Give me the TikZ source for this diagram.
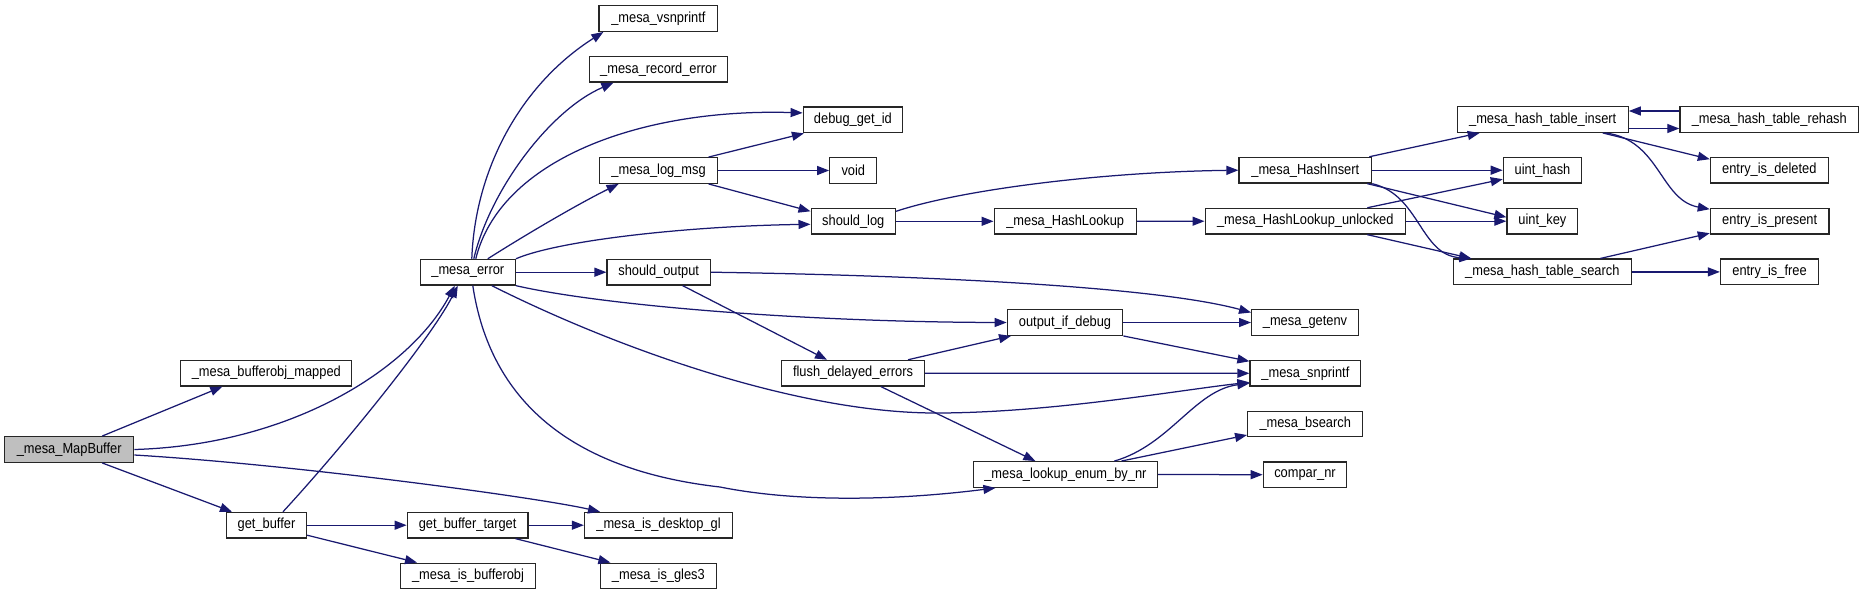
\documentclass[tikz,border=0pt]{standalone}
\usepackage{fontspec}
\setmainfont{Liberation Sans}
\newfontfamily\dotfont[FakeStretch=0.88]{Liberation Sans}
\usetikzlibrary{arrows.meta,calc}
\definecolor{edgeblue}{HTML}{191970}
\begin{document}
\begin{tikzpicture}[x=1pt,y=-1pt,
  box/.style={draw=black!85,line width=1.3pt,fill=white,minimum height=25.6pt,inner sep=0pt,font=\dotfont\fontsize{14.6}{16}\selectfont},
  rootbox/.style={box,fill=gray!50},
  link/.style={draw=edgeblue,line width=1.25pt,-{Triangle[length=12pt,width=9pt]}}]
\useasboundingbox (0,0) rectangle (1864,595);
% nodes
\node[rootbox,minimum width=129pt] (mapbuf) at (69.2,449.5) {\_mesa\_MapBuffer};
\node[box,minimum width=171pt] (mapped) at (266.3,373.2) {\_mesa\_bufferobj\_mapped};
\node[box,minimum width=80pt] (getbuf) at (266.5,525.2) {get\_buffer};
\node[box,minimum width=120.6pt] (gbt) at (467.6,525.2) {get\_buffer\_target};
\node[box,minimum width=135pt] (isbo) at (468,576) {\_mesa\_is\_bufferobj};
\node[box,minimum width=95pt] (err) at (467.8,272.2) {\_mesa\_error};
\node[box,minimum width=118.8pt] (vsn) at (658.4,18.5) {\_mesa\_vsnprintf};
\node[box,minimum width=137.8pt] (rec) at (658.4,69.3) {\_mesa\_record\_error};
\node[box,minimum width=117.6pt] (logm) at (658.6,170.5) {\_mesa\_log\_msg};
\node[box,minimum width=103.2pt] (sout) at (658.7,272.2) {should\_output};
\node[box,minimum width=148pt] (dgl) at (658.5,525.2) {\_mesa\_is\_desktop\_gl};
\node[box,minimum width=116.4pt] (gles3) at (658.4,576) {\_mesa\_is\_gles3};
\node[box,minimum width=99.3pt] (dbg) at (852.9,119.9) {debug\_get\_id};
\node[box,minimum width=47pt] (void) at (853.3,170.5) {void};
\node[box,minimum width=84.3pt] (slog) at (853.3,221.3) {should\_log};
\node[box,minimum width=143pt] (flush) at (853,373.2) {flush\_delayed\_errors};
\node[box,minimum width=142pt] (hlook) at (1065.2,221.3) {\_mesa\_HashLookup};
\node[box,minimum width=115.4pt] (oid) at (1065,322.5) {output\_if\_debug};
\node[box,minimum width=184pt] (lenum) at (1065.4,474.5) {\_mesa\_lookup\_enum\_by\_nr};
\node[box,minimum width=132.5pt] (hins) at (1305.3,170.2) {\_mesa\_HashInsert};
\node[box,minimum width=200.3pt] (hlu) at (1305.3,221.2) {\_mesa\_HashLookup\_unlocked};
\node[box,minimum width=106.6pt] (genv) at (1305,322.5) {\_mesa\_getenv};
\node[box,minimum width=110.7pt] (snp) at (1305.4,373.3) {\_mesa\_snprintf};
\node[box,minimum width=115pt] (bsr) at (1305.2,424) {\_mesa\_bsearch};
\node[box,minimum width=83.4pt] (cmp) at (1305,474.7) {compar\_nr};
\node[box,minimum width=171pt] (hti) at (1542.7,119.5) {\_mesa\_hash\_table\_insert};
\node[box,minimum width=78.3pt] (uhash) at (1542.5,170.2) {uint\_hash};
\node[box,minimum width=70.8pt] (ukey) at (1542.4,221.2) {uint\_key};
\node[box,minimum width=178pt] (hts) at (1542.3,271.9) {\_mesa\_hash\_table\_search};
\node[box,minimum width=178.7pt] (rehash) at (1769.3,119.5) {\_mesa\_hash\_table\_rehash};
\node[box,minimum width=117.7pt] (edel) at (1769.3,170.2) {entry\_is\_deleted};
\node[box,minimum width=118.6pt] (epres) at (1769.7,221.2) {entry\_is\_present};
\node[box,minimum width=98pt] (efree) at (1769.5,271.9) {entry\_is\_free};
% edges from _mesa_MapBuffer
\draw[link] ([xshift=33pt]mapbuf.north) -- ([xshift=-44pt]mapped.south);
\draw[link] (mapbuf.east) .. controls (290,445) and (410,370) .. ([xshift=-13pt]err.south);
\draw[link] ([yshift=-5.5pt]mapbuf.east) .. controls (300,465) and (540,498) .. ([xshift=-58.5pt]dgl.north);
\draw[link] ([xshift=33pt]mapbuf.south) -- ([xshift=-34.5pt]getbuf.north);
% get_buffer
\draw[link] ([xshift=16.5pt]getbuf.north) .. controls (340,450) and (430,340) .. ([xshift=-10pt]err.south);
\draw[link] (getbuf.east) -- (gbt.west);
\draw[link] ([yshift=-10pt]getbuf.east) -- ([xshift=-51pt]isbo.north);
\draw[link] (gbt.east) -- (dgl.west);
\draw[link] ([xshift=48pt]gbt.south) -- ([xshift=-48pt]gles3.north);
% _mesa_error
\draw[link] ([xshift=4pt]err.north) .. controls (475,170) and (520,85) .. ([xshift=-55pt]vsn.south);
\draw[link] ([xshift=6pt]err.north) .. controls (490,190) and (550,110) .. ([xshift=-45pt]rec.south);
\draw[link] ([xshift=8pt]err.north) .. controls (500,160) and (640,108) .. ([yshift=7pt]dbg.west);
\draw[link] ([xshift=20pt]err.north) .. controls (530,232) and (580,203) .. ([xshift=-40pt]logm.south);
\draw[link] (err.north east) .. controls (560,240) and (690,226) .. ([yshift=-3pt]slog.west);
\draw[link] (err.east) -- (sout.west);
\draw[link] (err.south east) .. controls (600,305) and (800,322) .. (oid.west);
\draw[link] ([xshift=24pt]err.south) .. controls (620,350) and (800,413) .. (936,413) .. controls (1050,413) and (1180,390) .. ([yshift=-9pt]snp.west);
\draw[link] ([xshift=5pt]err.south) .. controls (490,400) and (570,470) .. (720,487) .. controls (800,503) and (900,500) .. ([xshift=-70pt]lenum.south);
% should_output
\draw[link] ([xshift=24pt]sout.south) -- ([xshift=-26pt]flush.north);
\draw[link] (sout.east) .. controls (900,275) and (1150,285) .. ([yshift=10pt]genv.west);
% _mesa_log_msg
\draw[link] ([xshift=50pt]logm.north) -- ([xshift=-49pt]dbg.south);
\draw[link] (logm.east) -- (void.west);
\draw[link] ([xshift=50pt]logm.south) -- ([yshift=10pt]slog.west);
% should_log
\draw[link] ([yshift=10pt]slog.east) .. controls (960,190) and (1100,172) .. (hins.west);
\draw[link] (slog.east) -- (hlook.west);
\draw[link] (hlook.east) -- (hlu.west);
% _mesa_HashInsert
\draw[link] ([xshift=64pt]hins.north) -- ([xshift=-63pt]hti.south);
\draw[link] (hins.east) -- (uhash.west);
\draw[link] ([xshift=62pt]hins.south) -- ([yshift=4pt]ukey.west);
\draw[link] (hins.south east) .. controls (1420,195) and (1420,255) .. ([xshift=-71pt]hts.north);
% _mesa_HashLookup_unlocked
\draw[link] ([xshift=62pt]hlu.north) -- ([yshift=-9pt]uhash.west);
\draw[link] (hlu.east) -- (ukey.west);
\draw[link] ([xshift=62pt]hlu.south) -- ([xshift=-71pt]hts.north);
% hash table
\draw[link] ([yshift=-9pt]hti.east) -- ([yshift=-9pt]rehash.west);
\draw[link] ([yshift=8.5pt]rehash.west) -- ([yshift=8.5pt]hti.east);
\draw[link] ([xshift=60pt]hti.south) -- ([yshift=11pt]edel.west);
\draw[link] ([xshift=63pt]hti.south) .. controls (1660,140) and (1660,200) .. ([yshift=12pt]epres.west);
\draw[link] ([xshift=58pt]hts.north) -- ([yshift=-12pt]epres.west);
\draw[link] (hts.east) -- (efree.west);
% output_if_debug, flush, lookup_enum
\draw[link] (oid.east) -- (genv.west);
\draw[link] (oid.south east) -- ([yshift=12pt]snp.west);
\draw[link] ([xshift=55pt]flush.north) -- ([xshift=-54pt]oid.south);
\draw[link] (flush.east) -- (snp.west);
\draw[link] ([xshift=28pt]flush.south) -- ([xshift=-30pt]lenum.north);
\draw[link] ([xshift=49pt]lenum.north) .. controls (1170,445) and (1195,390) .. ([yshift=-10pt]snp.west);
\draw[link] ([xshift=56pt]lenum.north) -- ([yshift=-11pt]bsr.west);
\draw[link] (lenum.east) -- (cmp.west);
\end{tikzpicture}
\end{document}
